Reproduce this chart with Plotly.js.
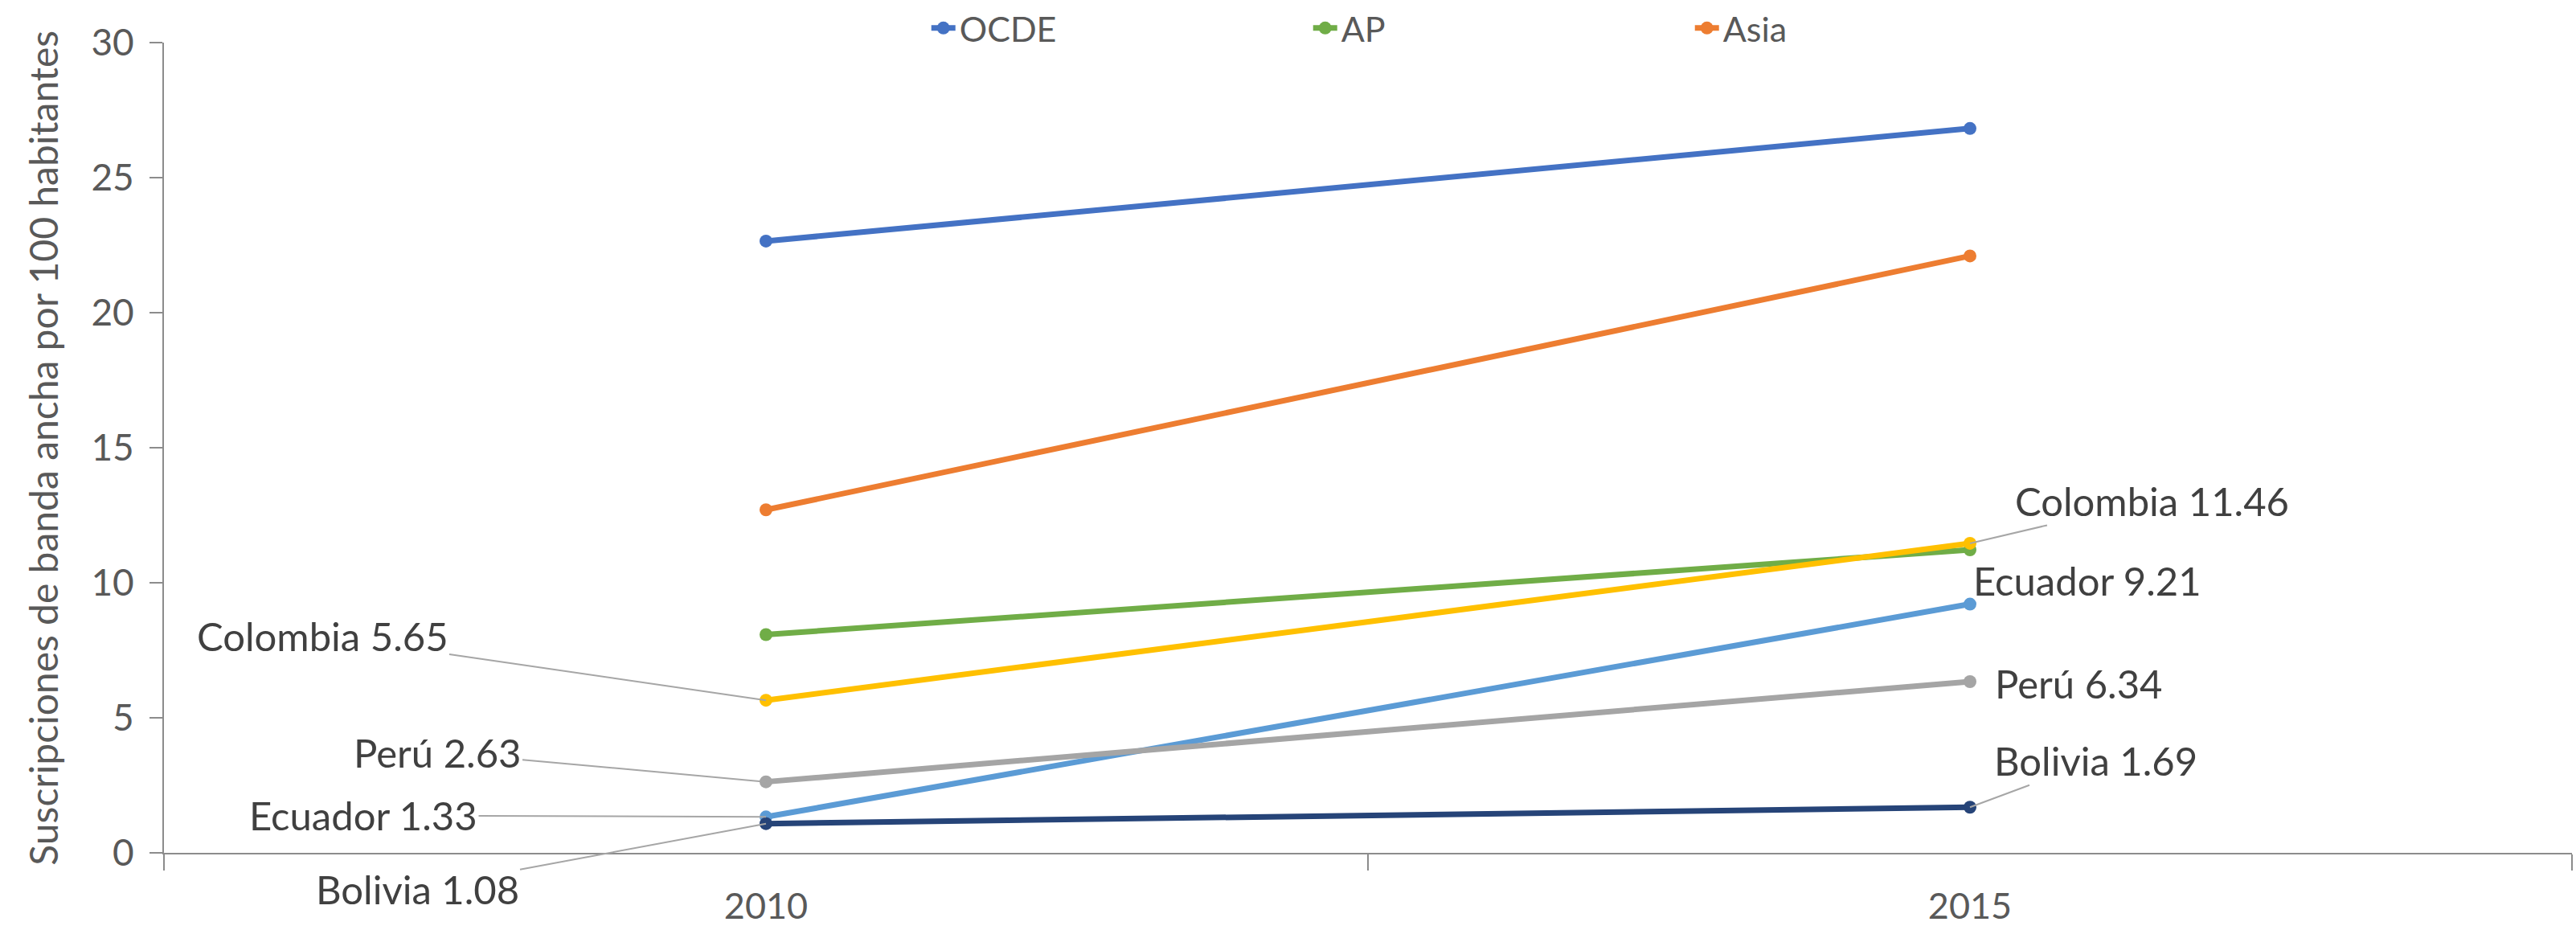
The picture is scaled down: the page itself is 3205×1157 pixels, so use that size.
<!DOCTYPE html>
<html>
<head>
<meta charset="utf-8">
<script src="https://cdn.plot.ly/plotly-3.0.1.min.js"></script>
<style>html,body{margin:0;padding:0;background:#fff;}#chart{width:3205px;height:1157px;}</style>
</head>
<body>
<div id="chart"></div>
<script>
const years = ['2010', '2015'];
const ocde = [22.65, 26.82];
const ap = [8.08, 11.22];
const asia = [12.7, 22.1];
const colombia = [5.65, 11.46];
const ecuador = [1.33, 9.21];
const peru = [2.63, 6.34];
const bolivia = [1.08, 1.69];
const yTitle = 'Suscripciones de banda ancha por 100 habitantes';

const seriesNames = ['OCDE', 'AP', 'Asia', 'Colombia', 'Ecuador', 'Perú', 'Bolivia'];
const seriesData = [ocde, ap, asia, colombia, ecuador, peru, bolivia];
const seriesColors = ['#4472C4', '#70AD47', '#ED7D31', '#FFC000', '#5B9BD5', '#A5A5A5', '#264478'];
const inLegend = [true, true, true, false, false, false, false];

const FONT = 'Lato, "Open Sans", sans-serif';
const TXT = '#404040';

const traces = seriesNames.map((n, i) => ({
  type: 'scatter', mode: 'lines+markers', name: n,
  x: years, y: seriesData[i],
  line: {color: seriesColors[i], width: 7},
  marker: {color: seriesColors[i], size: 16},
  showlegend: inLegend[i]
}));

// label definitions: series index, point index, pixel offsets (ax, ay), arrow
const labelSpec = [
  {s: 3, p: 0, ax: -552, ay: -80, arrow: true},
  {s: 5, p: 0, ax: -409, ay: -37, arrow: true},
  {s: 4, p: 0, ax: -501, ay: -2, arrow: true},
  {s: 6, p: 0, ax: -434, ay: 81, arrow: true},
  {s: 3, p: 1, ax: 226, ay: -53, arrow: true},
  {s: 4, p: 1, ax: 146, ay: -30, arrow: false},
  {s: 5, p: 1, ax: 135, ay: 2, arrow: false},
  {s: 6, p: 1, ax: 156, ay: -58, arrow: true}
];

const annotations = labelSpec.map(l => {
  const v = seriesData[l.s][l.p];
  const txt = seriesNames[l.s] + ' ' + v.toFixed(2);
  const base = {
    x: l.p, y: v, xref: 'x', yref: 'y', text: txt,
    font: {family: FONT, size: 49, color: TXT}
  };
  if (l.arrow) {
    return Object.assign(base, {showarrow: true, ax: l.ax, ay: l.ay, arrowhead: 0,
      arrowwidth: 2, arrowcolor: '#A6A6A6', standoff: 0});
  }
  return Object.assign(base, {showarrow: false, xshift: l.ax, yshift: -l.ay});
});

annotations.push({
  xref: 'paper', yref: 'paper', x: -0.0505, y: 0.5, xanchor: 'center', yanchor: 'middle',
  text: yTitle, textangle: -90, showarrow: false,
  font: {family: FONT, size: 48, color: '#595959'}
});

const layout = {
  width: 3205, height: 1157,
  margin: {l: 204, r: 5, t: 53, b: 96, autoexpand: false},
  paper_bgcolor: '#fff', plot_bgcolor: '#fff',
  font: {family: FONT, color: '#595959'},
  showlegend: true,
  legend: {orientation: 'h', x: 0.317, xanchor: 'left', y: 1.018, yanchor: 'middle',
    font: {family: FONT, size: 43, color: '#595959'}, entrywidth: 430, entrywidthmode: 'pixels',
    bgcolor: 'rgba(0,0,0,0)', itemwidth: 30},
  xaxis: {type: 'category', range: [-0.5, 1.5], showgrid: false, zeroline: false,
    showline: true, linecolor: '#8C8C8C', linewidth: 2,
    ticks: 'outside', tickson: 'boundaries', ticklen: 20, tickcolor: '#8C8C8C', tickwidth: 2,
    ticklabelstandoff: 26,
    tickfont: {family: FONT, size: 45, color: '#595959'}},
  yaxis: {range: [0, 30], dtick: 5, showgrid: false, zeroline: false,
    showline: true, linecolor: '#8C8C8C', linewidth: 2,
    ticks: 'outside', ticklen: 16, tickcolor: '#8C8C8C', tickwidth: 2,
    ticklabelstandoff: 10,
    tickfont: {family: FONT, size: 46, color: '#595959'}},
  annotations: annotations
};

Plotly.newPlot('chart', traces, layout, {displayModeBar: false, staticPlot: true});
</script>
</body>
</html>
